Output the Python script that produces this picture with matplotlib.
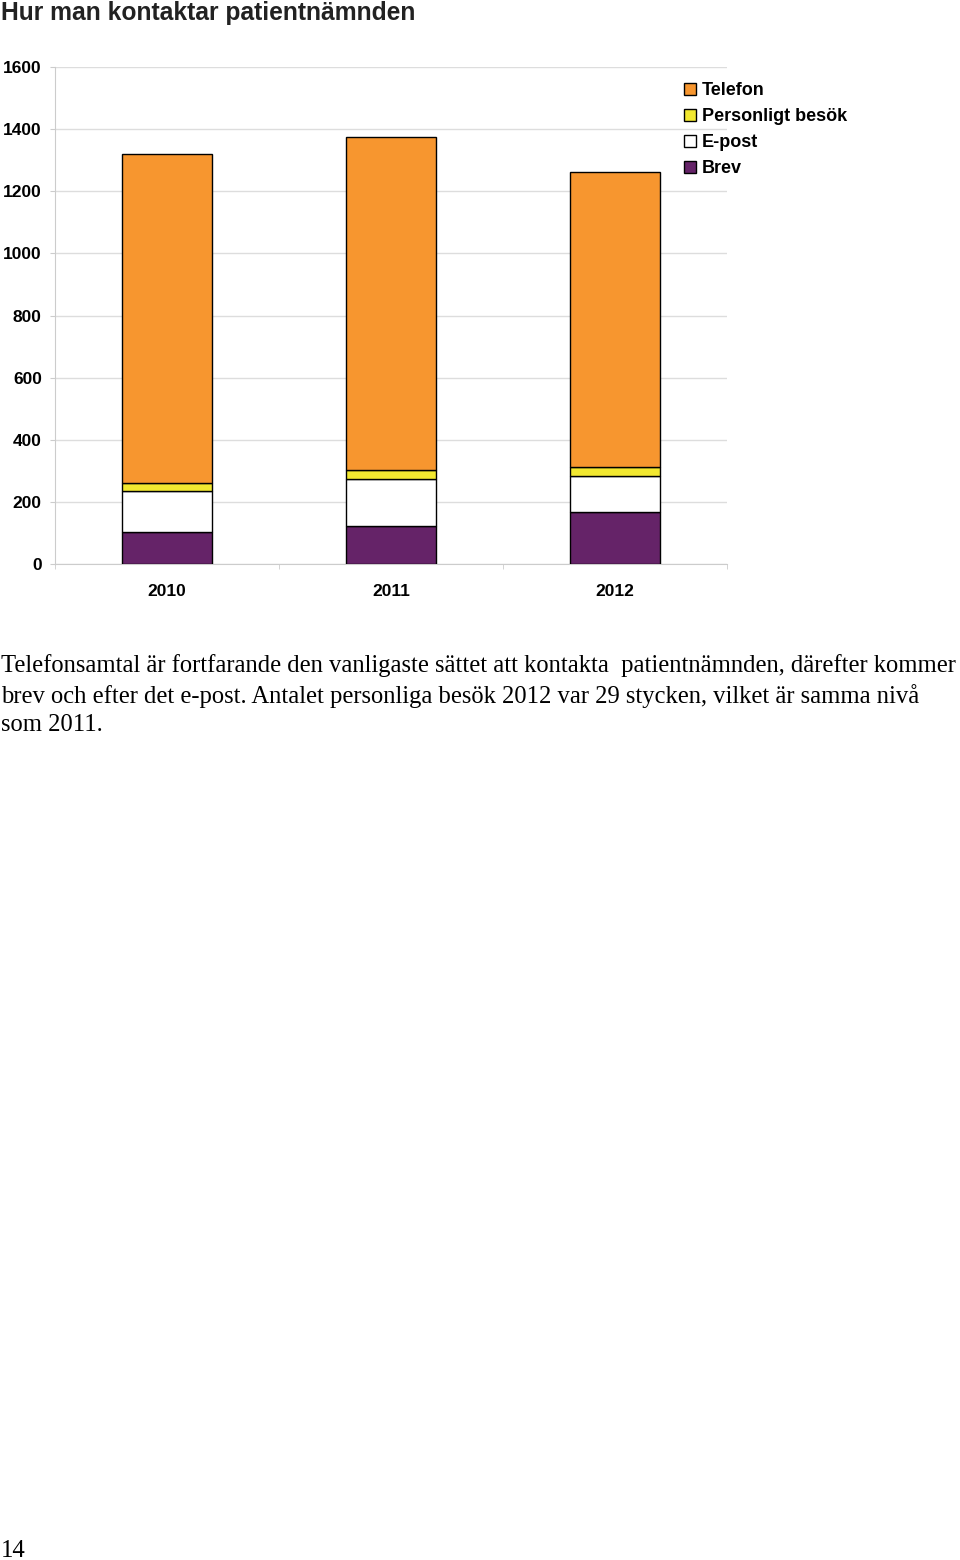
import matplotlib.pyplot as plt
import numpy as np

# Contacts per channel and year
years = ["2010", "2011", "2012"]
brev = [104, 122, 169]
epost = [130, 153, 114]
besok = [27, 29, 29]
telefon = [1060, 1070, 951]

series = [
    ("Brev", brev, "#652368"),
    ("E-post", epost, "#FFFFFF"),
    ("Personligt besök", besok, "#F2E830"),
    ("Telefon", telefon, "#F7962F"),
]
y_ticks = [0, 200, 400, 600, 800, 1000, 1200, 1400, 1600]

body = ("Telefonsamtal är fortfarande den vanligaste sättet att kontakta  patientnämnden, därefter kommer\n"
        "brev och efter det e-post. Antalet personliga besök 2012 var 29 stycken, vilket är samma nivå\n"
        "som 2011.")

W, H = 960, 1560
fig = plt.figure(figsize=(W / 100, H / 100), dpi=100)
ax = fig.add_axes([55 / W, 1 - 564 / H, (727 - 55) / W, (564 - 67) / H])

x = np.arange(len(years))
bottom = np.zeros(len(years))
handles = {}
for name, vals, color in series:
    bars = ax.bar(x, vals, width=0.4, bottom=bottom, color=color,
                  edgecolor="black", linewidth=1.0, label=name, zorder=3)
    handles[name] = bars
    bottom += np.array(vals)

ax.set_xlim(-0.5, 2.5)
ax.set_ylim(0, 1600)
ax.set_yticks(y_ticks)
ax.set_yticklabels([str(v) for v in y_ticks], fontsize=12.5, fontweight="bold",
                   family="Liberation Sans")
ax.set_xticks(x)
ax.set_xticklabels(years, fontsize=12.5, fontweight="bold", family="Liberation Sans")
ax.set_xticks([-0.5, 0.5, 1.5, 2.5], minor=True)
ax.tick_params(axis="x", which="major", length=0, pad=14.5)
ax.tick_params(axis="x", which="minor", length=3.5, color="#cccccc")
ax.tick_params(axis="y", length=3.5, color="#cccccc", pad=6)
ax.grid(axis="y", color="#dddddd", linewidth=1.0, zorder=0)

for side in ["top", "right"]:
    ax.spines[side].set_visible(False)
for side in ["left", "bottom"]:
    ax.spines[side].set_color("#cccccc")

order = ["Telefon", "Personligt besök", "E-post", "Brev"]
fig.legend([handles[n] for n in order], order, loc="upper left",
           bbox_to_anchor=(684 / W, 1 - 82 / H), frameon=False,
           prop={"family": "Liberation Sans", "weight": "bold", "size": 13},
           handlelength=0.67, handleheight=0.67, handletextpad=0.3,
           labelspacing=0.5, borderpad=0, borderaxespad=0)

fig.text(1 / W, 1 - 1 / H, "Hur man kontaktar patientnämnden", ha="left", va="top",
         fontsize=17.7, fontweight="bold", family="Liberation Sans", color="#222222")

fig.text(1 / W, 1 - 654 / H, body, ha="left", va="top", fontsize=17.75,
         family="Liberation Serif", linespacing=1.35)

fig.text(1 / W, 1 - 1557 / H, "14", ha="left", va="baseline", fontsize=17.75,
         family="Liberation Serif")

fig.savefig("out.png", dpi=100)
